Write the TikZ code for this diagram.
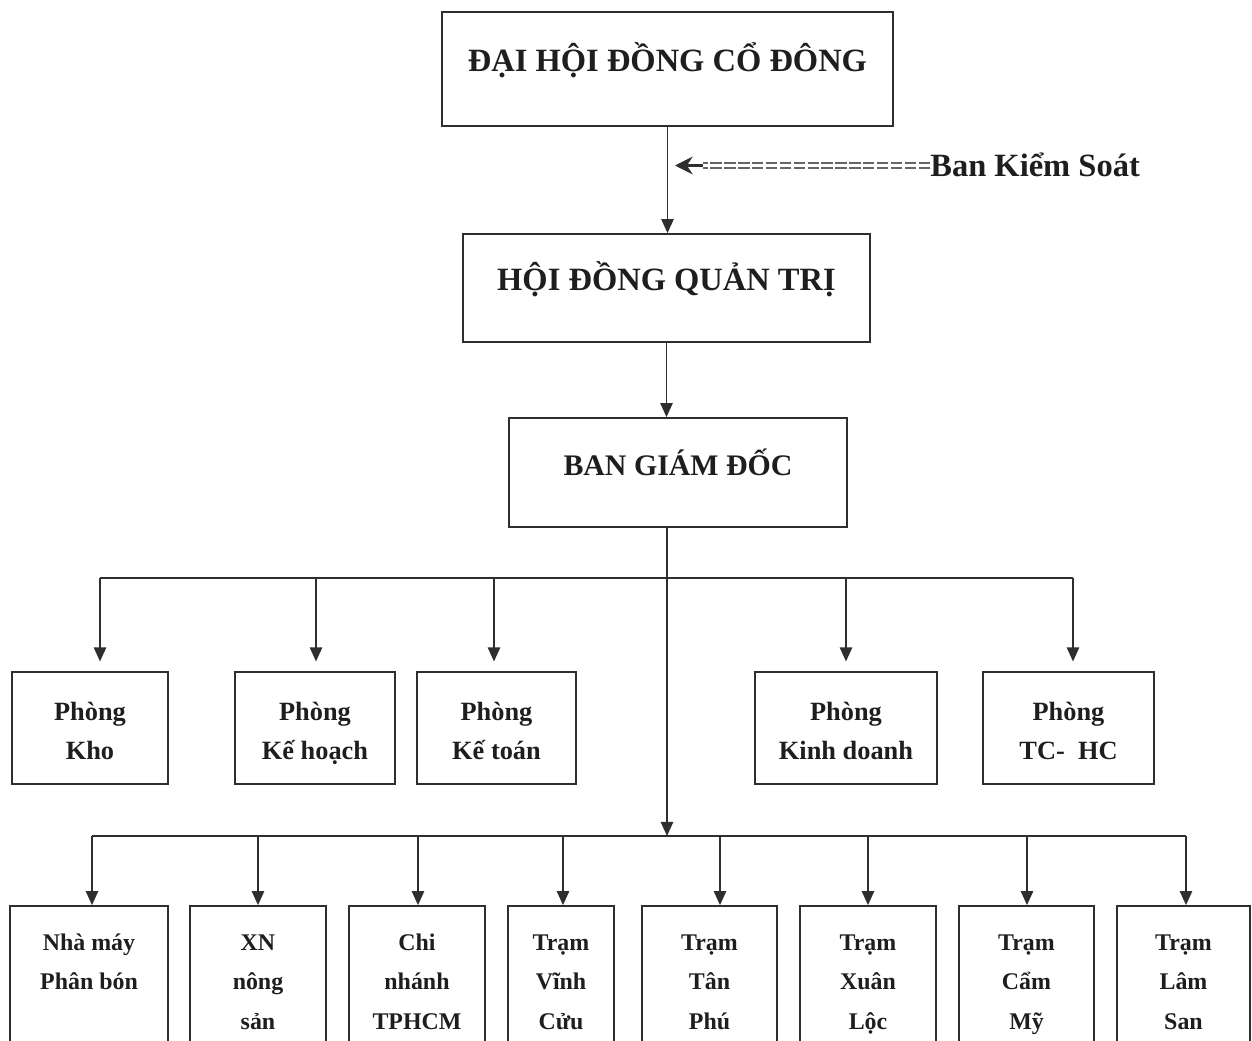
\documentclass[tikz,border=0pt]{standalone}
\usepackage{fontspec}
\setmainfont{Liberation Serif}
\usetikzlibrary{arrows.meta,positioning}
\definecolor{orgline}{HTML}{2E2E2E}
\definecolor{orgtext}{HTML}{1E1E1E}
\definecolor{orggray}{HTML}{666666}
\newcommand{\pxu}{0.02cm}
\tikzset{
  orgln/.style={draw=orgline,line width=1pt},
  orgarr/.style={orgln,-{Triangle[length=8pt,width=7pt]}},
  orgbox/.style={draw=orgline,line width=1pt,inner sep=0pt,align=center,text=orgtext},
  mainbox/.style={orgbox,text height=3.4pt,text depth=0pt},
  deptbox/.style={orgbox,minimum height=112*\pxu,text height=36.3pt,text depth=0pt,
    font=\bfseries\fontsize{15}{22.7}\selectfont},
  unitbox/.style={orgbox,minimum height=154*\pxu,text height=53.3pt,text depth=0pt,
    font=\bfseries\fontsize{13.6}{22.7}\selectfont},
}

\begin{document}
\begin{tikzpicture}[x=0.02cm,y=-0.02cm]
  \useasboundingbox (0,0) rectangle (1252,1041);
  \clip (0,0) rectangle (1252,1041);
  \node[mainbox,minimum width=451*\pxu,minimum height=114*\pxu,font=\bfseries\fontsize{18.5}{22}\selectfont] (dhcd) at (667.5,69) {ĐẠI HỘI ĐỒNG CỔ ĐÔNG};
  \node[mainbox,minimum width=407*\pxu,minimum height=108*\pxu,font=\bfseries\fontsize{18.5}{22}\selectfont] (hdqt) at (666.5,288) {HỘI ĐỒNG QUẢN TRỊ};
  \node[mainbox,minimum width=338*\pxu,minimum height=109*\pxu,font=\bfseries\fontsize{17}{20}\selectfont] (bgd) at (678,472.5) {BAN GIÁM ĐỐC};
  \node[anchor=base west,inner sep=0pt,text=orgtext,font=\bfseries\fontsize{18.5}{22}\selectfont] (bks) at (930,176) {Ban Kiểm Soát};
  \coordinate (bksend) at (703,165.5);
  \coordinate (bkstip) at (675,165.5);
  \draw[draw=orggray,line width=1pt,double,double distance=1.8pt,dash pattern=on 6.5pt off 1.4pt] (bks.west |- bksend) -- (bksend);
  \draw[draw=orgline,line width=2.2pt,-{Stealth[length=10pt,width=10pt]}] (bksend) -- (bkstip);
  \coordinate (bus1) at (667,578);
  \coordinate (bus2) at (667,836);
  \draw[orgarr] (dhcd.south) -- (dhcd.south |- hdqt.north);
  \draw[orgarr] (hdqt.south) -- (hdqt.south |- bgd.north);
  \draw[orgarr] (bgd.south -| bus2) -- (bus2);
  \foreach \nm/\cx/\w/\dx/\txt in {d1/90/156/10/{Phòng\\Kho},d2/315/160/1/{Phòng\\Kế hoạch},d3/496.5/159/-2.5/{Phòng\\Kế toán},d4/846/182/0/{Phòng\\Kinh doanh},d5/1068.5/171/4.5/{Phòng\\TC-~~HC}}{
    \node[deptbox,minimum width=\w*\pxu] (\nm) at (\cx,728) {\txt};
    \coordinate (\nm-in) at ([xshift=\dx*\pxu]\nm.north);
    \draw[orgarr,shorten >=5.5pt] (bus1 -| \nm-in) -- (\nm-in);
  }
  \draw[orgln] (bus1 -| d1-in) -- (bus1 -| d5-in);
  \foreach \nm/\cx/\w/\dx/\txt in {b1/89/158/3/{Nhà máy\\Phân bón\\\mbox{}},b2/258/136/0/{XN\\nông\\sản},b3/417/136/1/{Chi\\nhánh\\TPHCM},b4/561/106/2/{Trạm\\Vĩnh\\Cửu},b5/709.5/135/10.5/{Trạm\\Tân\\Phú},b6/868/136/0/{Trạm\\Xuân\\Lộc},b7/1026.5/135/0.5/{Trạm\\Cẩm\\Mỹ},b8/1183.5/133/2.5/{Trạm\\Lâm\\San}}{
    \node[unitbox,minimum width=\w*\pxu] (\nm) at (\cx,983) {\txt};
    \coordinate (\nm-in) at ([xshift=\dx*\pxu]\nm.north);
    \draw[orgarr] (bus2 -| \nm-in) -- (\nm-in);
  }
  \draw[orgln] (bus2 -| b1-in) -- (bus2 -| b8-in);
\end{tikzpicture}
\end{document}
